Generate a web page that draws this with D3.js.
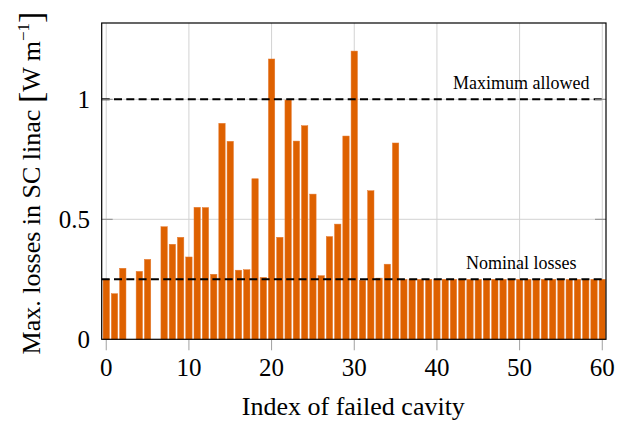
<!DOCTYPE html>
<html>
<head>
<meta charset="utf-8">
<script src="https://cdn.jsdelivr.net/npm/d3@7"></script>
<style>
  html, body { margin: 0; padding: 0; background: #fff; }
  svg { display: block; }
  text { font-family: "Liberation Serif", "Times New Roman", serif; fill: #000; }
</style>
</head>
<body>
<svg id="chart" width="625" height="421"></svg>
<script>
// ---- data ----
const cavityIndex = d3.range(0, 61);
const maxLosses = [
  0.25, 0.19, 0.296, 0, 0.283, 0.333, 0, 0.469, 0.396, 0.425,
  0.343, 0.55, 0.549, 0.271, 0.9, 0.825, 0.288, 0.29, 0.669, 0.258,
  1.168, 0.425, 0.997, 0.826, 0.89, 0.605, 0.265, 0.428, 0.48, 0.847,
  1.201, 0.246, 0.619, 0.255, 0.313, 0.818, 0.25, 0.25, 0.25, 0.25,
  0.25, 0.25, 0.25, 0.25, 0.25, 0.25, 0.25, 0.25, 0.25, 0.25,
  0.25, 0.25, 0.25, 0.25, 0.25, 0.25, 0.25, 0.25, 0.25, 0.25,
  0.25
];
const xTicks = [0, 10, 20, 30, 40, 50, 60];
const yTicks = [0, 0.5, 1];
const yTickLabels = ["0", "0.5", "1"];
const refLines = [
  { value: 1.0, label: "Maximum allowed", at: 50.2 },
  { value: 0.25, label: "Nominal losses", at: 50.2 }
];

// ---- layout ----
const svg = d3.select("#chart");
const L = 101.7, R = 606, T = 23, B = 339.3;
const x = d3.scaleLinear().domain([-0.55, 60.45]).range([L, R]);
const y = d3.scaleLinear().domain([0, 1.318]).range([B, T]);
const step = x(1) - x(0);
const barW = step * 0.77;

// grid
const grid = svg.append("g");
grid.selectAll("line.vx").data(xTicks).join("line")
  .attr("x1", d => x(d)).attr("x2", d => x(d))
  .attr("y1", T).attr("y2", B)
  .attr("stroke", "#d2d2d2").attr("stroke-width", 1);
grid.selectAll("line.hy").data(yTicks.filter(d => d > 0)).join("line")
  .attr("x1", L).attr("x2", R)
  .attr("y1", d => y(d)).attr("y2", d => y(d))
  .attr("stroke", "#d2d2d2").attr("stroke-width", 1);

// bars
svg.append("g").selectAll("rect").data(cavityIndex).join("rect")
  .attr("x", i => x(i) - barW / 2)
  .attr("width", barW)
  .attr("y", i => y(maxLosses[i]))
  .attr("height", i => y(0) - y(maxLosses[i]))
  .attr("fill", "#de6100")
  .attr("stroke", "#e57a30")
  .attr("stroke-width", 0.5);

// reference lines
const ref = svg.append("g");
ref.selectAll("line").data(refLines).join("line")
  .attr("x1", L).attr("x2", R)
  .attr("y1", d => y(d.value)).attr("y2", d => y(d.value))
  .attr("stroke", "#000").attr("stroke-width", 2)
  .attr("stroke-dasharray", "8,4.3");
ref.selectAll("text").data(refLines).join("text")
  .attr("x", d => x(d.at)).attr("y", d => y(d.value) - 10)
  .attr("text-anchor", "middle")
  .attr("font-size", 18)
  .text(d => d.label);

// y ticks (inside, both sides)
const ticks = svg.append("g");
ticks.selectAll("line.yl").data(yTicks.filter(d => d > 0)).join("line")
  .attr("x1", L).attr("x2", L + 11)
  .attr("y1", d => y(d)).attr("y2", d => y(d))
  .attr("stroke", "#8a8a8a").attr("stroke-width", 1);
ticks.selectAll("line.yr").data(yTicks.filter(d => d > 0)).join("line")
  .attr("class", "yr")
  .attr("x1", R - 11).attr("x2", R)
  .attr("y1", d => y(d)).attr("y2", d => y(d))
  .attr("stroke", "#8a8a8a").attr("stroke-width", 1);
// x ticks (outside bottom)
ticks.selectAll("line.xt").data(xTicks).join("line")
  .attr("class", "xt")
  .attr("x1", d => x(d)).attr("x2", d => x(d))
  .attr("y1", B).attr("y2", B + 11)
  .attr("stroke", "#a0a0a0").attr("stroke-width", 1);

// frame
svg.append("rect")
  .attr("x", L).attr("y", T).attr("width", R - L).attr("height", B - T)
  .attr("fill", "none").attr("stroke", "#000").attr("stroke-width", 1.2);

// tick labels
svg.append("g").selectAll("text").data(xTicks).join("text")
  .attr("x", d => x(d)).attr("y", 376)
  .attr("text-anchor", "middle").attr("font-size", 25)
  .text(d => d);
svg.append("g").selectAll("text").data(yTicks).join("text")
  .attr("x", 90).attr("y", d => y(d) + 9)
  .attr("text-anchor", "end").attr("font-size", 25)
  .text((d, i) => yTickLabels[i]);

// axis labels
svg.append("text")
  .attr("x", (L + R) / 2 - 0.5).attr("y", 415)
  .attr("text-anchor", "middle").attr("font-size", 26)
  .text("Index of failed cavity");

const yl = svg.append("text")
  .attr("transform", "translate(40,183) rotate(-90)")
  .attr("text-anchor", "middle").attr("font-size", 26);
yl.append("tspan").text("Max. losses in SC linac ");
yl.append("tspan").attr("font-size", 34).attr("dy", 2).text("[");
yl.append("tspan").attr("dy", -2).text("W m");
yl.append("tspan").attr("font-size", 17).attr("dy", -11).text("\u22121");
yl.append("tspan").attr("font-size", 34).attr("dy", 13).text("]");
</script>
</body>
</html>
